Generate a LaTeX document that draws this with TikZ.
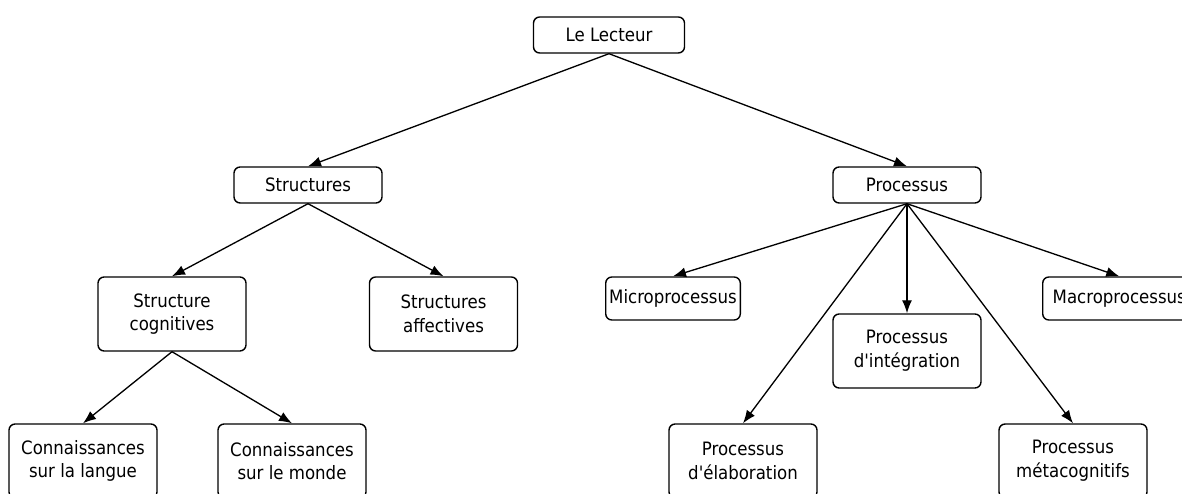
\documentclass[tikz,border=0pt]{standalone}
\usepackage{fontspec}
\setmainfont{DejaVu Sans Condensed}
\usetikzlibrary{arrows.meta}
\begin{document}
\begin{tikzpicture}[scale=1]
    \tikzset{boite/.style={draw,rounded corners=3.5pt,line width=0.8pt,align=center,font=\fontsize{10.5}{13.5}\selectfont,minimum width=2.96cm,minimum height=0.72cm,inner sep=2pt}};
    \tikzset{haute/.style={boite,minimum height=1.48cm}};
    \tikzset{fleche/.style={-{Latex[length=2.6mm,width=2mm]},line width=0.75pt}};
    \useasboundingbox (0,0) rectangle (23.64,-9.88);
    \clip (0,0) rectangle (23.64,-9.88);
    \node[boite,minimum width=3.02cm] (lecteur) at (12.18,-0.70) {Le Lecteur};
    \node[boite] (structures) at (6.16,-3.70) {Structures};
    \node[boite] (processus) at (18.14,-3.70) {Processus};
    \node[haute] (cognitives) at (3.44,-6.28) {Structure\\cognitives};
    \node[haute] (affectives) at (8.87,-6.28) {Structures\\affectives};
    \node[haute] (langue) at (1.66,-9.22) {Connaissances\\sur la langue};
    \node[haute] (monde) at (5.84,-9.22) {Connaissances\\sur le monde};
    \node[boite,minimum width=2.64cm,minimum height=0.86cm] (micro) at (13.46,-5.97) {Microprocessus};
    \node[haute] (integration) at (18.14,-7.02) {Processus\\d\textquotesingle intégration};
    \node[boite,minimum height=0.86cm,inner xsep=0.2cm,anchor=west] (macro) at (20.84,-5.97) {Macroprocessus};
    \node[haute] (elaboration) at (14.86,-9.22) {Processus\\d\textquotesingle élaboration};
    \node[haute] (meta) at (21.46,-9.22) {Processus\\métacognitifs};
    \draw[fleche] (lecteur.south) -- (structures.north);
    \draw[fleche] (lecteur.south) -- (processus.north);
    \draw[fleche] (structures.south) -- (cognitives.north);
    \draw[fleche] (structures.south) -- (affectives.north);
    \draw[fleche] (cognitives.south) -- (langue.north);
    \draw[fleche] (cognitives.south) -- (monde.north);
    \draw[fleche] (processus.south) -- (micro.north);
    \draw[fleche] (processus.south) -- (integration.north);
    \draw[fleche] (processus.south) -- (macro.north);
    \draw[fleche] (processus.south) -- (elaboration.north);
    \draw[fleche] (processus.south) -- (meta.north);
\end{tikzpicture}
\end{document}
